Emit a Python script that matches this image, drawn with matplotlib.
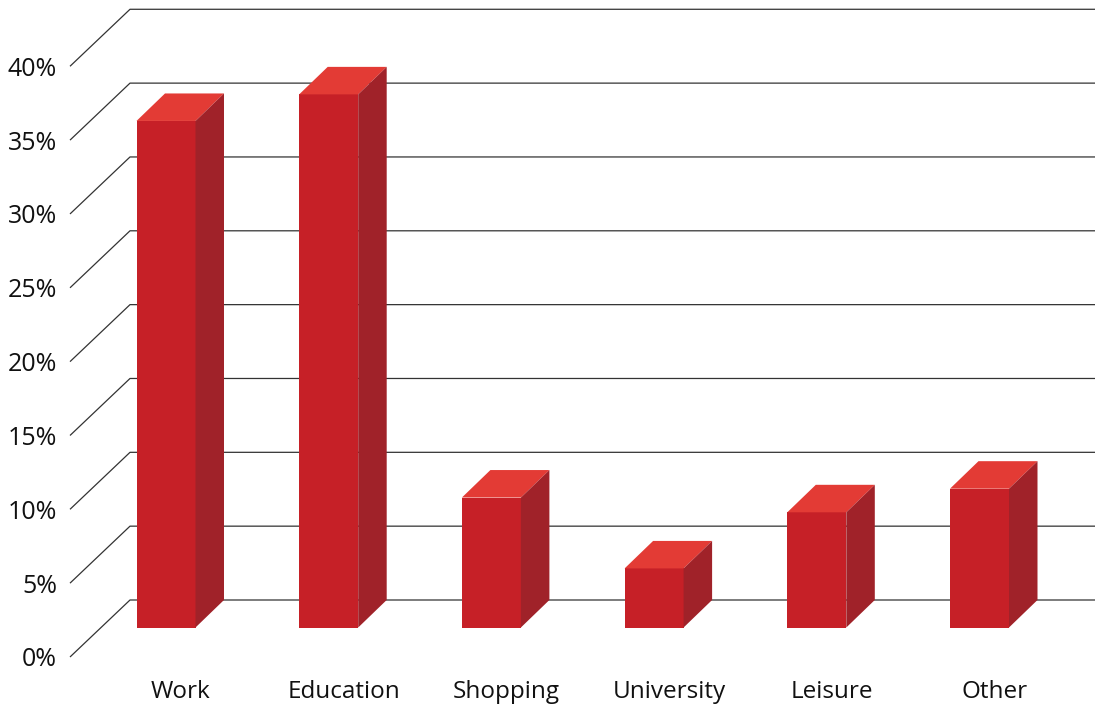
import matplotlib
matplotlib.use('Agg')
import matplotlib.pyplot as plt
from matplotlib.patches import Polygon

##########################################################
#                        Data                            #
##########################################################

categories = ['Work', 'Education', 'Shopping', 'University', 'Leisure', 'Other']
shares = [34.3, 36.1, 8.8, 4.0, 7.8, 9.4]   # percent
grid_levels = [0, 5, 10, 15, 20, 25, 30, 35, 40]
tick_labels = ['0%', '5%', '10%', '15%', '20%', '25%', '30%', '35%', '40%']

##########################################################
#                  Layout / style                        #
##########################################################

W, H = 1095, 706
# pixel scale of the axes (x: one category step, y: percent)
px_x = 1 / 162.7
px_y = 5 / 73.84
x0_px = 166.0       # pixel x of first bar front centre
y0_px = 600.0       # pixel y (from top) of the back 0% line

bar_w = 59 * px_x
depth_x = 28.5 * px_x
depth_y = 27.5 * px_y
grid_dx = 60 * px_x
grid_dy = 57 * px_y
grid_back_x = (130 - x0_px) * px_x

front_col = '#C62027'
top_col = '#E33B35'
side_col = '#A02229'
grid_col = '#333333'

plt.rcParams['font.family'] = ['Open Sans', 'DejaVu Sans']

fig = plt.figure(figsize=(W / 100, H / 100), dpi=100)
ax = fig.add_axes([0, 0, 1, 1])
ax.set_xlim(-x0_px * px_x, (W - x0_px) * px_x)
ax.set_ylim(-(H - y0_px) * px_y, y0_px * px_y)
ax.axis('off')

##########################################################
#              Perspective grid lines                    #
##########################################################

xmax = ax.get_xlim()[1]
for g, lab in zip(grid_levels, tick_labels):
    ax.plot([grid_back_x - grid_dx, grid_back_x, xmax], [g - grid_dy, g, g],
            color=grid_col, lw=0.9, zorder=1, solid_capstyle='butt')
    ax.text(grid_back_x - grid_dx - 13 * px_x, g - grid_dy - 3 * px_y, lab,
            ha='right', va='center', fontsize=18, color='#111111')

##########################################################
#                    3D-looking bars                     #
##########################################################

xs = list(range(len(categories)))
ax.bar(xs, shares, width=bar_w, bottom=-depth_y, color=front_col,
       edgecolor='none', zorder=3)

for x, v in zip(xs, shares):
    left = x - bar_w / 2
    right = x + bar_w / 2
    top = [(left, v - depth_y), (right, v - depth_y),
           (right + depth_x, v), (left + depth_x, v)]
    side = [(right, -depth_y), (right + depth_x, 0),
            (right + depth_x, v), (right, v - depth_y)]
    ax.add_patch(Polygon(top, closed=True, facecolor=top_col, edgecolor='none', zorder=3))
    ax.add_patch(Polygon(side, closed=True, facecolor=side_col, edgecolor='none', zorder=3))

    # category label below bar
    ax.text(x + 15 * px_x, (y0_px - 692) * px_y, categories[x],
            ha='center', va='center', fontsize=17.5, color='#111111')

plt.savefig('out.png', dpi=100, facecolor='white')
